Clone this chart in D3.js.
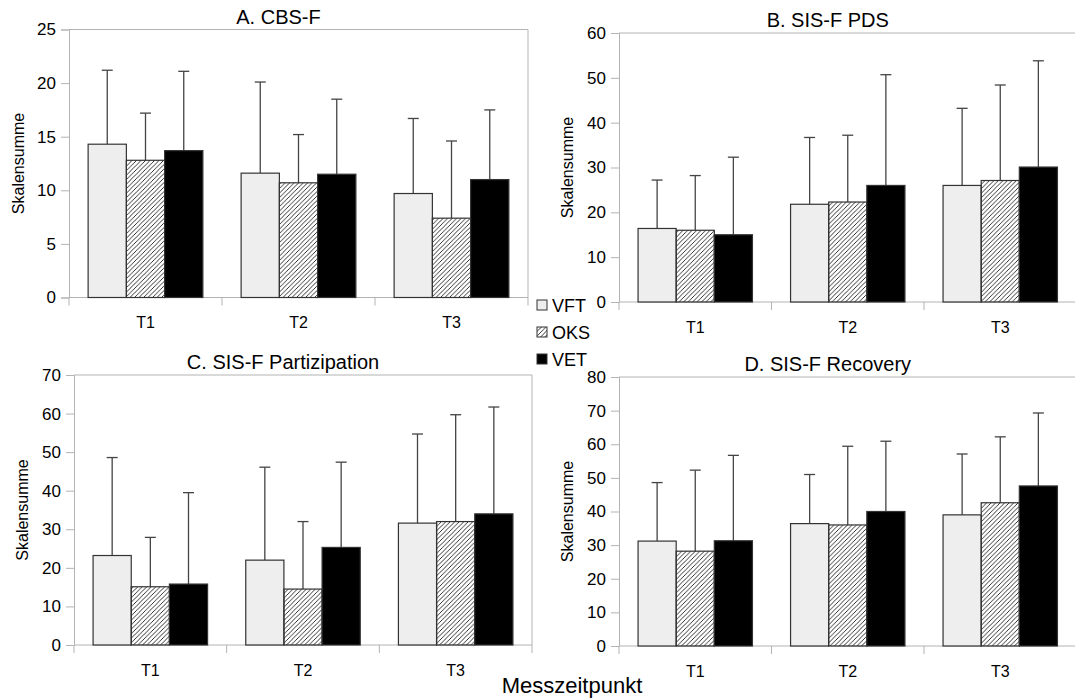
<!DOCTYPE html>
<html>
<head>
<meta charset="utf-8">
<script src="https://cdnjs.cloudflare.com/ajax/libs/d3/7.8.5/d3.min.js"></script>
<style>
	body { margin: 0; background: #fff; }
	svg { font-family: "Liberation Sans", Arial, sans-serif; }
</style>
</head>
<body>
<svg id="chart" width="1075" height="700"></svg>
<script>
	'use strict';
	var categories = ['T1', 'T2', 'T3'];
	var series = ['VFT', 'OKS', 'VET'];

	// means per series (rows) and timepoint (columns), plus top of the error bar
	var cbsMean = [[14.3, 11.6, 9.7], [12.8, 10.7, 7.4], [13.7, 11.5, 11.0]];
	var cbsUpper = [[21.2, 20.1, 16.7], [17.2, 15.2, 14.6], [21.1, 18.5, 17.5]];
	var pdsMean = [[16.4, 21.8, 26.0], [16.0, 22.3, 27.1], [15.0, 26.0, 30.1]];
	var pdsUpper = [[27.2, 36.7, 43.2], [28.2, 37.2, 48.4], [32.3, 50.7, 53.8]];
	var partMean = [[23.2, 22.0, 31.6], [15.1, 14.5, 32.0], [15.8, 25.3, 34.0]];
	var partUpper = [[48.6, 46.1, 54.7], [27.9, 32.0, 59.7], [39.5, 47.4, 61.7]];
	var recMean = [[31.2, 36.4, 39.0], [28.2, 36.0, 42.6], [31.3, 40.0, 47.6]];
	var recUpper = [[48.6, 51.0, 57.1], [52.3, 59.4, 62.2], [56.7, 60.9, 69.3]];

	var yMax = [25, 60, 70, 80];
	var yStep = [5, 10, 10, 10];
	var titles = ['A. CBS-F', 'B. SIS-F PDS', 'C. SIS-F Partizipation', 'D. SIS-F Recovery'];

	var panels = [
		{title: titles[0], mean: cbsMean, upper: cbsUpper, max: yMax[0], step: yStep[0], box: {l: 69, r: 528, t: 29.5, b: 297.5}, labelX: 18, titleY: 24},
		{title: titles[1], mean: pdsMean, upper: pdsUpper, max: yMax[1], step: yStep[1], box: {l: 619, r: 1076.5, t: 33, b: 302}, labelX: 567, titleY: 27},
		{title: titles[2], mean: partMean, upper: partUpper, max: yMax[2], step: yStep[2], box: {l: 74, r: 532, t: 375, b: 645}, labelX: 22, titleY: 369},
		{title: titles[3], mean: recMean, upper: recUpper, max: yMax[3], step: yStep[3], box: {l: 619, r: 1076.5, t: 377, b: 646}, labelX: 567, titleY: 371}
	];

	var axisColor = '#b3b3b3';
	var fills = ['#eeeeee', 'url(#hatch)', '#000000'];

	var svg = d3.select('#chart');

	// diagonal hatch for the OKS bars
	svg.append('defs').append('pattern')
		.attr('id', 'hatch')
		.attr('patternUnits', 'userSpaceOnUse')
		.attr('width', 4.5).attr('height', 4.5)
		.append('path')
		.attr('d', 'M-1,1 l2,-2 M0,4.5 l4.5,-4.5 M3.5,5.5 l2,-2')
		.attr('stroke', '#000')
		.attr('stroke-width', 0.8);

	panels.forEach(function (p) {
		var box = p.box;
		var g = svg.append('g');

		var x0 = d3.scaleBand()
			.domain(categories)
			.range([box.l, box.r]);
		var x1 = d3.scaleBand()
			.domain(series)
			.range([0, x0.bandwidth()])
			.paddingOuter(0.5);
		var y = d3.scaleLinear()
			.domain([0, p.max])
			.range([box.b, box.t]);

		// frame: top and right
		g.append('path')
			.attr('d', 'M' + box.l + ',' + box.t + 'H' + box.r + 'V' + box.b)
			.attr('fill', 'none')
			.attr('stroke', axisColor);

		// y axis
		var yAxis = g.append('g')
			.attr('transform', 'translate(' + box.l + ',0)')
			.call(d3.axisLeft(y)
				.tickValues(d3.range(0, p.max + 0.001, p.step))
				.tickSize(8)
				.tickPadding(5));
		yAxis.select('.domain').attr('stroke', axisColor);
		yAxis.selectAll('.tick line').attr('stroke', axisColor);
		yAxis.selectAll('.tick text')
			.attr('font-size', 17)
			.attr('fill', '#000')
			.attr('font-family', '"Liberation Sans", Arial, sans-serif');

		// x axis: ticks sit on the group boundaries
		var xAxis = g.append('g');
		xAxis.append('line')
			.attr('x1', box.l).attr('x2', box.r)
			.attr('y1', box.b).attr('y2', box.b)
			.attr('stroke', axisColor);
		var edges = categories.map(function (c) { return x0(c); }).concat([box.r]);
		xAxis.selectAll('line.edge')
			.data(edges)
			.enter().append('line')
			.attr('class', 'edge')
			.attr('x1', function (d) { return d; })
			.attr('x2', function (d) { return d; })
			.attr('y1', box.b).attr('y2', box.b + 8)
			.attr('stroke', axisColor);
		xAxis.selectAll('text')
			.data(categories)
			.enter().append('text')
			.attr('x', function (d) { return x0(d) + x0.bandwidth() / 2; })
			.attr('y', box.b + 30.5)
			.attr('text-anchor', 'middle')
			.attr('font-size', 16)
			.text(function (d) { return d; });

		var rows = [];
		series.forEach(function (s, si) {
			categories.forEach(function (c, ci) {
				rows.push({s: s, si: si, c: c, v: p.mean[si][ci], up: p.upper[si][ci]});
			});
		});

		// error bars (upper only), drawn before the bars
		var err = g.append('g')
			.attr('stroke', '#444')
			.attr('stroke-width', 1.3);
		rows.forEach(function (d) {
			var cx = x0(d.c) + x1(d.s) + x1.bandwidth() / 2;
			err.append('line')
				.attr('x1', cx).attr('x2', cx)
				.attr('y1', y(d.v)).attr('y2', y(d.up));
			err.append('line')
				.attr('x1', cx - 5.5).attr('x2', cx + 5.5)
				.attr('y1', y(d.up)).attr('y2', y(d.up));
		});

		g.append('g').selectAll('rect')
			.data(rows)
			.enter().append('rect')
			.attr('x', function (d) { return x0(d.c) + x1(d.s); })
			.attr('y', function (d) { return y(d.v); })
			.attr('width', x1.bandwidth())
			.attr('height', function (d) { return y(0) - y(d.v); })
			.attr('fill', function (d) { return fills[d.si]; })
			.attr('stroke', '#333')
			.attr('stroke-width', 1.2);

		// titles sit a bit left of the plot centre
		g.append('text')
			.attr('x', (box.l + box.r) / 2 - 20)
			.attr('y', p.titleY)
			.attr('text-anchor', 'middle')
			.attr('font-size', 20)
			.text(p.title);
		g.append('text')
			.attr('transform', 'translate(' + p.labelX + ',' + ((box.t + box.b) / 2) + ') rotate(-90)')
			.attr('text-anchor', 'middle')
			.attr('dy', '0.35em')
			.attr('font-size', 16)
			.text('Skalensumme');
	});

	// legend between the panels
	var legend = svg.append('g');
	series.forEach(function (s, i) {
		var ly = 305 + i * 27;
		legend.append('rect')
			.attr('x', 537).attr('y', ly - 5)
			.attr('width', 10).attr('height', 10)
			.attr('fill', fills[i])
			.attr('stroke', '#333');
		legend.append('text')
			.attr('x', 552).attr('y', ly + 7)
			.attr('font-size', 18)
			.text(s);
	});

	svg.append('text')
		.attr('x', 572)
		.attr('y', 693)
		.attr('text-anchor', 'middle')
		.attr('font-size', 22)
		.text('Messzeitpunkt');
</script>
</body>
</html>
